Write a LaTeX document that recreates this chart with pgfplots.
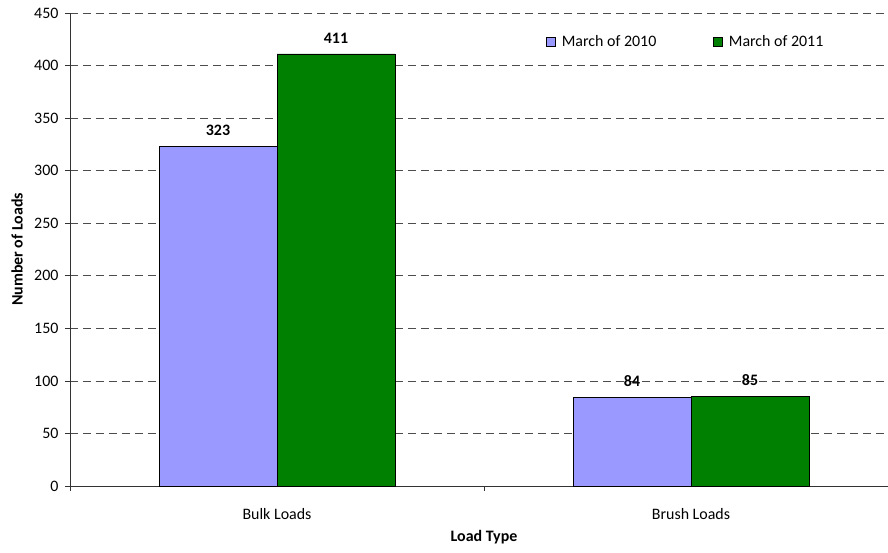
\documentclass[border=0pt]{standalone}
\usepackage{pgfplots}
\pgfplotsset{compat=1.18}
\usepackage{fontspec}
\setmainfont{Carlito}
\definecolor{c2010}{HTML}{9999FF}
\definecolor{c2011}{HTML}{008000}
\begin{document}
\begin{tikzpicture}
\begin{axis}[
  scale only axis,
  width=828bp, height=473bp,
  ymin=0, ymax=450, ytick={0,50,...,450},
  xmin=-0.5, xmax=1.5,
  xtick={-0.5,0.5,1.5}, xticklabels={},
  extra x ticks={0,1}, extra x tick labels={Bulk Loads,Brush Loads},
  extra x tick style={major tick length=0pt, grid=none,
    xticklabel style={anchor=center, yshift=-28bp}},
  axis x line*=bottom, axis y line*=left,
  axis line style={black!80, line width=0.8pt},
  tick align=outside,
  major tick length=5bp,
  tick style={black!80, line width=0.7pt},
  ymajorgrids,
  grid style={black!70, dash pattern=on 8bp off 5bp, line width=0.7pt},
  ybar=0pt, bar width=0.285,
  tick label style={font=\fontsize{16}{19}\selectfont},
  yticklabel style={xshift=-3bp},
  /pgf/number format/assume math mode=true,
  xlabel={\textbf{Load Type}}, ylabel={\textbf{Number of Loads}},
  every axis x label/.style={at={(rel axis cs:0.5,0)}, yshift=-51bp, anchor=center,
    font=\fontsize{16}{19}\selectfont},
  every axis y label/.style={at={(rel axis cs:0,0.5)}, xshift=-53bp, anchor=center, rotate=90,
    font=\fontsize{16}{19}\selectfont},
  nodes near coords,
  every node near coord/.append style={font=\bfseries\fontsize{16}{19}\selectfont, yshift=7bp},
  legend style={at={(0.5714,0.939)}, anchor=west, draw=none, fill=none,
    font=\fontsize{16}{19}\selectfont, legend columns=2,
    /tikz/every even column/.append style={column sep=55bp}},
  legend image code/.code={\draw[#1, draw=black, line width=0.5pt] (0bp,-4.5bp) rectangle (9bp,4.5bp); \path (13bp,0bp);},
]
\addplot[fill=c2010, draw=black, line width=0.6pt] coordinates {(0,323) (1,84)};
\addplot[fill=c2011, draw=black, line width=0.6pt] coordinates {(0,411) (1,85)};
\legend{March of 2010, March of 2011}
\coordinate (o) at (rel axis cs:0,0);
\end{axis}
\pgfresetboundingbox
\path (o) ++(-70bp,-67bp) rectangle ++(888bp,553bp);
\end{tikzpicture}
\end{document}
